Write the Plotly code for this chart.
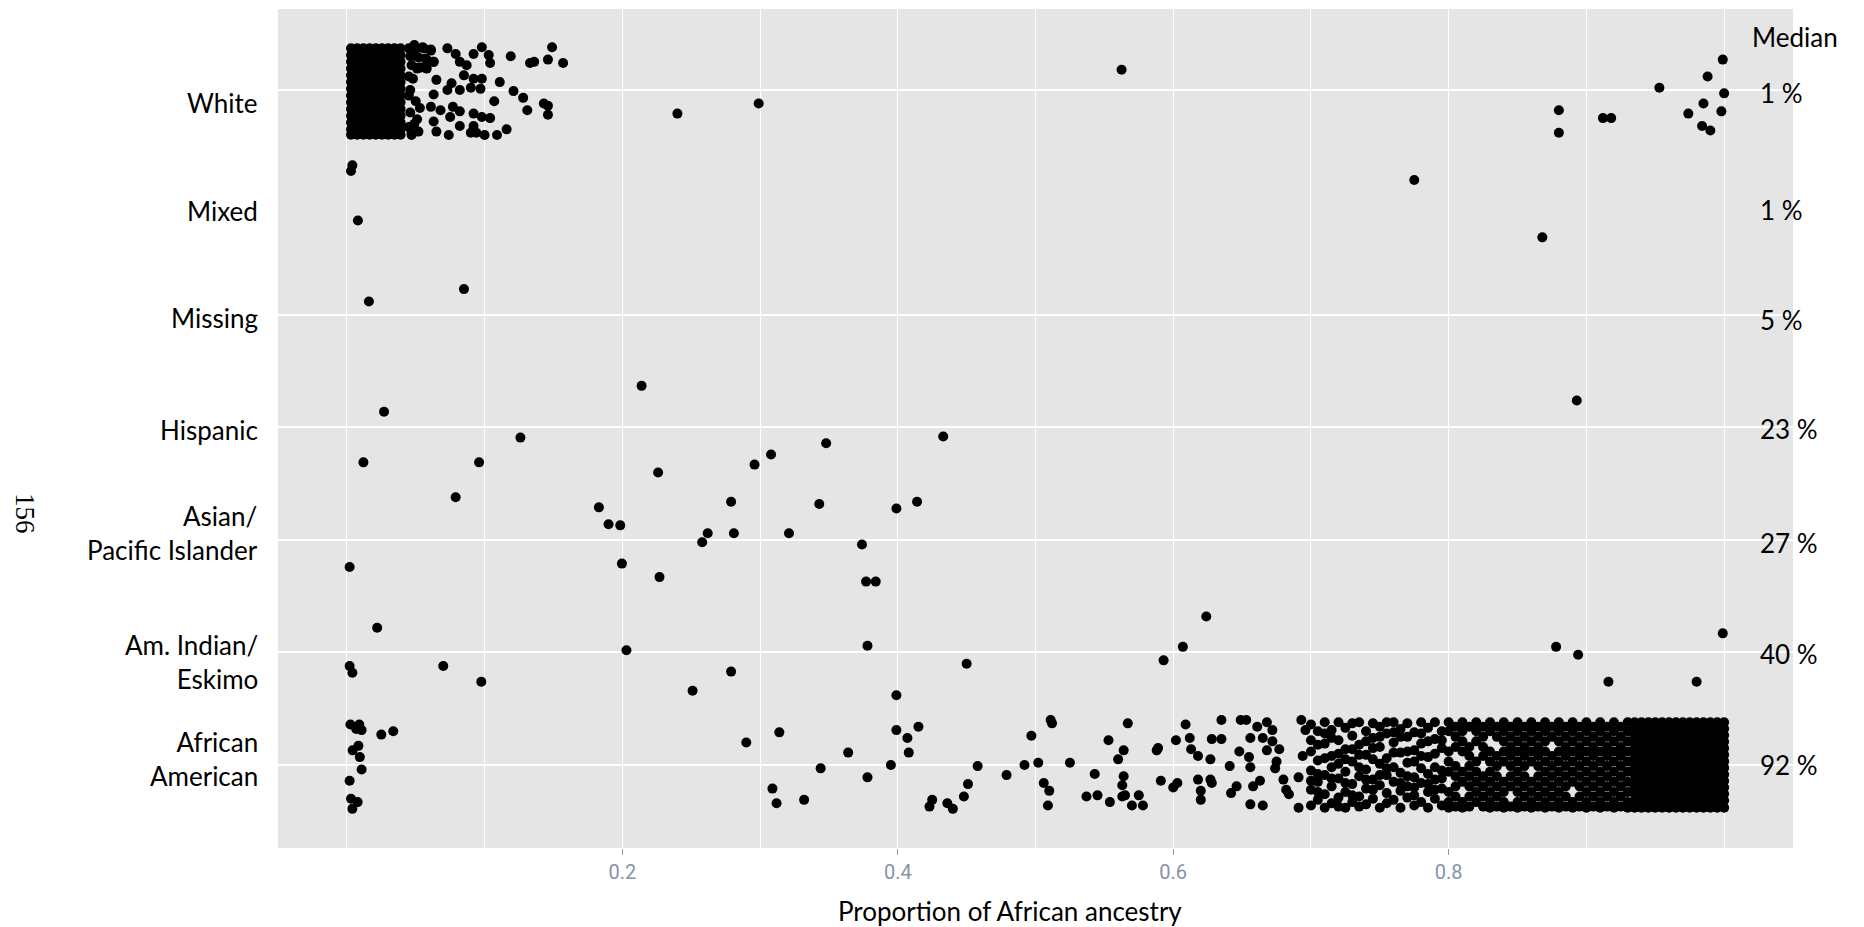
import plotly.graph_objects as go

# ---------------- data ----------------
categories = ["White", "Mixed", "Missing", "Hispanic",
              "Asian/<br>Pacific Islander", "Am. Indian/<br>Eskimo", "African<br>American"]
medians = ["1 %", "1 %", "5 %", "23 %", "27 %", "40 %", "92 %"]
x_ticks = [0.2, 0.4, 0.6, 0.8]
x_ticklabels = ["0.2", "0.4", "0.6", "0.8"]
x_title = "Proportion of African ancestry"
median_title = "Median"
page_number = "156"

# jitter offsets of the fully black stacks
white_full = [-0.37, -0.31, -0.25, -0.19, -0.13, -0.07, -0.01, 0.05, 0.11, 0.17, 0.23, 0.29, 0.35, 0.398]
african_full = [-0.38, -0.322, -0.264, -0.206, -0.148, -0.09, -0.032, 0.026, 0.084, 0.142, 0.2, 0.258, 0.316, 0.38]
african_a = [-0.38, -0.30, -0.21, -0.12, -0.03, 0.06, 0.15, 0.24, 0.33, 0.38]
african_b = [-0.34, -0.25, -0.16, -0.08, 0.01, 0.10, 0.19, 0.28, 0.37]

# (proportion, vertical jitter)
white_block = [
    (0.003, white_full), (0.0075, white_full), (0.012, white_full), (0.0165, white_full),
    (0.021, white_full), (0.0255, white_full), (0.030, white_full), (0.0345, white_full),
    (0.039, white_full),
]
white_pts = [
    (0.045, -0.37), (0.050, -0.36), (0.056, -0.37), (0.061, -0.35), (0.046, -0.30), (0.052, -0.29),
    (0.058, -0.27), (0.063, -0.25), (0.047, -0.22), (0.054, -0.20), (0.045, -0.12), (0.045, 0.05),
    (0.046, 0.20), (0.045, 0.33), (0.047, 0.40), (0.051, 0.26),
    (0.049, -0.40), (0.055, -0.38), (0.061, -0.36), (0.050, -0.30), (0.057, -0.28), (0.063, -0.25),
    (0.052, -0.20), (0.048, -0.10), (0.050, 0.10), (0.049, 0.30), (0.047, 0.38),
    (0.073, -0.37), (0.079, -0.32), (0.082, -0.25), (0.092, -0.32), (0.098, -0.38), (0.103, -0.31),
    (0.104, -0.24), (0.087, -0.22), (0.119, -0.30), (0.133, -0.24), (0.136, -0.25), (0.149, -0.38),
    (0.146, -0.27), (0.157, -0.24),
    (0.051, -0.19), (0.058, -0.19), (0.065, -0.09), (0.076, -0.06), (0.085, -0.13), (0.092, -0.10),
    (0.098, -0.10), (0.111, -0.07), (0.121, 0.01), (0.128, 0.07), (0.107, 0.10), (0.131, 0.18),
    (0.143, 0.12), (0.146, 0.14), (0.146, 0.22),
    (0.046, 0.00), (0.063, 0.04), (0.073, 0.00), (0.082, 0.00), (0.090, -0.02), (0.097, -0.01),
    (0.053, 0.16), (0.061, 0.15), (0.068, 0.18), (0.077, 0.15), (0.082, 0.19), (0.092, 0.21),
    (0.098, 0.24), (0.104, 0.25), (0.063, 0.28), (0.075, 0.24),
    (0.052, 0.37), (0.065, 0.37), (0.074, 0.40), (0.090, 0.38), (0.094, 0.38), (0.100, 0.40),
    (0.109, 0.40), (0.116, 0.35), (0.082, 0.32), (0.092, 0.32),
    (0.240, 0.21), (0.299, 0.12), (0.5625, -0.18), (0.999, -0.27), (0.953, -0.02), (0.988, -0.12),
    (1.000, 0.03), (0.985, 0.12), (0.974, 0.21), (0.998, 0.19), (0.984, 0.32), (0.990, 0.36),
    (0.880, 0.18), (0.880, 0.38), (0.912, 0.25), (0.918, 0.25),
]
mixed_pts = [(0.004, -0.33), (0.003, -0.28), (0.008, 0.16), (0.775, -0.20), (0.868, 0.31)]
missing_pts = [(0.016, -0.12), (0.085, -0.23)]
hispanic_pts = [
    (0.214, -0.37), (0.027, -0.14), (0.126, 0.09), (0.012, 0.31), (0.096, 0.31), (0.226, 0.40),
    (0.296, 0.33), (0.308, 0.24), (0.348, 0.14), (0.433, 0.08), (0.893, -0.24),
]
asian_pts = [
    (0.079, -0.38), (0.183, -0.29), (0.190, -0.14), (0.1985, -0.13), (0.258, 0.02), (0.262, -0.06),
    (0.281, -0.06), (0.279, -0.34), (0.321, -0.06), (0.343, -0.32), (0.374, 0.04), (0.399, -0.28),
    (0.414, -0.34), (0.002, 0.24), (0.1997, 0.21), (0.227, 0.33), (0.377, 0.37), (0.384, 0.37),
]
amindian_pts = [
    (0.022, -0.22), (0.378, -0.06), (0.203, -0.02), (0.002, 0.12), (0.004, 0.18), (0.070, 0.12),
    (0.0976, 0.26), (0.251, 0.34), (0.279, 0.17), (0.399, 0.38), (0.450, 0.10), (0.593, 0.07),
    (0.607, -0.05), (0.624, -0.32), (0.878, -0.05), (0.894, 0.02), (0.916, 0.26), (0.980, 0.26),
    (0.999, -0.17),
]
african_pts = [
    (0.0026, -0.36), (0.009, -0.36), (0.0068, -0.32), (0.0107, -0.31), (0.025, -0.27), (0.0337, -0.30),
    (0.0042, -0.13), (0.0084, -0.17), (0.0094, -0.07), (0.0107, 0.04), (0.002, 0.14), (0.003, 0.30),
    (0.0078, 0.33), (0.004, 0.39),
    (0.290, -0.20), (0.314, -0.29), (0.309, 0.21), (0.312, 0.34), (0.332, 0.31), (0.344, 0.03),
    (0.364, -0.11), (0.378, 0.11), (0.395, 0.00), (0.399, -0.31), (0.407, -0.24), (0.408, -0.11),
    (0.415, -0.34), (0.423, 0.37), (0.425, 0.31), (0.436, 0.34), (0.440, 0.39), (0.448, 0.28),
    (0.451, 0.17), (0.458, 0.01),
    (0.479, 0.09), (0.492, 0.00), (0.502, -0.02), (0.497, -0.26), (0.511, -0.40), (0.512, -0.37),
    (0.506, 0.16), (0.510, 0.23), (0.509, 0.36), (0.525, -0.02), (0.537, 0.28), (0.545, 0.27),
    (0.543, 0.08), (0.553, -0.22), (0.554, 0.33), (0.563, 0.28), (0.565, 0.27), (0.564, -0.13),
    (0.560, -0.05), (0.564, 0.10), (0.563, 0.18), (0.567, -0.37), (0.570, 0.36), (0.578, 0.36),
    (0.575, 0.27), (0.588, -0.13), (0.589, -0.15), (0.591, 0.14), (0.602, -0.22), (0.600, 0.20),
    (0.603, 0.16), (0.609, -0.36), (0.612, -0.24), (0.613, -0.14), (0.618, -0.08), (0.627, -0.05),
    (0.618, 0.13), (0.620, 0.23), (0.620, 0.31), (0.628, -0.23), (0.635, -0.23), (0.627, 0.13),
    (0.628, 0.16), (0.635, -0.40), (0.641, 0.01), (0.642, 0.25), (0.646, 0.19), (0.648, -0.12),
    (0.649, -0.40), (0.653, -0.40), (0.655, -0.07), (0.656, 0.02), (0.656, -0.24), (0.661, -0.34),
    (0.658, 0.19), (0.663, 0.14), (0.656, 0.35), (0.665, 0.36), (0.668, -0.38), (0.672, -0.31),
    (0.665, -0.24), (0.672, -0.21), (0.668, -0.13), (0.677, -0.14), (0.675, -0.03), (0.674, 0.03),
    (0.680, 0.13), (0.682, 0.22), (0.684, 0.26), (0.691, 0.38), (0.693, -0.40), (0.696, -0.31),
    (0.694, -0.08), (0.691, 0.11),
]
african_block = [
    (0.700, [-0.36, -0.22, -0.12, 0.05, 0.14, 0.22, 0.36]),
    (0.705, [-0.30, -0.18, -0.04, 0.08, 0.15, 0.24, 0.31]),
    (0.710, [-0.38, -0.28, -0.19, -0.06, 0.09, 0.26, 0.38]),
    (0.715, [-0.31, -0.24, -0.08, 0.02, 0.12, 0.19, 0.34]),
    (0.720, [-0.38, -0.22, -0.10, -0.01, 0.12, 0.29, 0.37]),
    (0.725, [-0.33, -0.14, -0.05, 0.06, 0.16, 0.24, 0.38]),
    (0.730, [-0.37, -0.26, -0.14, -0.03, 0.17, 0.27, 0.33]),
    (0.735, [-0.38, -0.18, -0.09, 0.02, 0.10, 0.28, 0.37]),
    (0.740, [-0.30, -0.21, -0.09, 0.04, 0.13, 0.21, 0.35]),
    (0.745, [-0.37, -0.24, -0.15, -0.05, 0.13, 0.22, 0.30]),
    (0.750, [-0.34, -0.25, -0.16, -0.01, 0.09, 0.18, 0.38]),
    (0.755, [-0.38, -0.28, -0.06, 0.03, 0.09, 0.25, 0.34]),
    (0.760, [-0.38, -0.29, -0.20, -0.11, 0.02, 0.15, 0.31]),
    (0.765, [-0.32, -0.25, -0.11, 0.07, 0.16, 0.23, 0.38]),
    (0.770, [-0.37, -0.25, -0.12, -0.02, 0.10, 0.19, 0.29]),
    (0.775, [-0.29, -0.13, -0.03, 0.11, 0.20, 0.27, 0.36]),
    (0.780, [-0.38, -0.28, -0.19, -0.08, 0.03, 0.16, 0.33]),
    (0.785, [-0.33, -0.21, -0.07, 0.08, 0.17, 0.24, 0.38]),
    (0.790, [-0.38, -0.23, -0.10, 0.02, 0.13, 0.22, 0.30]),
    (0.795, [-0.30, -0.22, -0.15, 0.05, 0.12, 0.21, 0.36]),
    (0.800, [-0.38, -0.30, -0.12, -0.03, 0.06, 0.24, 0.33, 0.38]),
    (0.805, [-0.34, -0.25, -0.16, 0.01, 0.10, 0.19, 0.28, 0.37]),
    (0.810, [-0.38, -0.30, -0.21, -0.12, 0.06, 0.15, 0.33, 0.38]),
    (0.815, [-0.34, -0.16, -0.08, 0.01, 0.10, 0.19, 0.28, 0.37]),
    (0.820, [-0.38, -0.30, -0.21, -0.03, 0.06, 0.15, 0.24, 0.33]),
    (0.825, [-0.34, -0.25, -0.16, -0.08, 0.10, 0.19, 0.28, 0.37]),
    (0.830, [-0.38, -0.30, -0.12, -0.03, 0.06, 0.15, 0.24, 0.33, 0.38]),
    (0.835, [-0.34, -0.25, -0.08, 0.01, 0.10, 0.19, 0.28, 0.37]),
    (0.840, [-0.38, -0.30, -0.21, -0.12, -0.03, 0.15, 0.24, 0.33, 0.38]),
    (0.845, [-0.34, -0.25, -0.16, -0.08, 0.01, 0.10, 0.19, 0.37]),
    (0.850, african_a),
    (0.855, african_b),
    (0.860, [-0.38, -0.30, -0.21, -0.12, -0.03, 0.15, 0.24, 0.33, 0.38]),
    (0.865, african_b),
    (0.870, african_a),
    (0.875, [-0.34, -0.25, -0.08, 0.01, 0.10, 0.19, 0.28, 0.37]),
    (0.880, african_a),
    (0.885, african_b),
    (0.890, [-0.38, -0.30, -0.21, -0.12, -0.03, 0.06, 0.15, 0.33, 0.38]),
    (0.895, african_b),
    (0.900, african_a), (0.905, african_b), (0.910, african_a), (0.915, african_b),
    (0.920, african_a), (0.925, african_b), (0.930, african_a),
    (0.935, african_full), (0.940, african_full), (0.945, african_full), (0.950, african_full),
    (0.955, african_full), (0.960, african_full), (0.965, african_full), (0.970, african_full),
    (0.975, african_full), (0.980, african_full), (0.985, african_full), (0.990, african_full),
    (0.995, african_full), (1.000, african_full),
]

# label placement (row units; rows are 0..6 from top)
label_rows = [0.116, 1.076, 2.027, 3.022, 3.942, 5.089, 5.947]
median_rows = [0.027, 1.067, 2.044, 3.013, 4.027, 5.013, 6.0]
grid_rows = [0, 2, 3, 4, 5, 6]


def expand(block):
    return [(x, j) for x, js in block for j in js]


rows = [
    expand(white_block) + white_pts,
    mixed_pts,
    missing_pts,
    hispanic_pts,
    asian_pts,
    amindian_pts,
    african_pts + expand(african_block),
]

xs, ys = [], []
for i, pts in enumerate(rows):
    for x, j in pts:
        xs.append(x)
        ys.append(i + j)

fig = go.Figure()
fig.add_trace(go.Scatter(
    x=xs, y=ys, mode="markers",
    marker=dict(color="black", size=10, line=dict(width=0)),
    hoverinfo="skip", showlegend=False,
))

LABEL_FONT = dict(family="Lato, 'Open Sans', sans-serif", size=26, color="black")

for txt, r in zip(categories, label_rows):
    fig.add_annotation(text=txt, xref="paper", x=-0.0119, xanchor="right",
                       yref="y", y=r, yanchor="middle", showarrow=False,
                       align="right", font=LABEL_FONT)

for txt, r in zip(medians, median_rows):
    fig.add_annotation(text=txt, xref="paper", x=0.9769, xanchor="left",
                       yref="y", y=r, yanchor="middle", showarrow=False,
                       align="left", font=LABEL_FONT)

fig.add_annotation(text=median_title, xref="paper", x=0.9716, xanchor="left",
                   yref="y", y=-0.467, yanchor="middle", showarrow=False, font=LABEL_FONT)

fig.add_annotation(text=x_title, xref="paper", x=0.483, xanchor="center",
                   yref="paper", y=-0.075, yanchor="middle", showarrow=False, font=LABEL_FONT)

fig.add_annotation(text=page_number, xref="paper", x=-0.167, xanchor="center",
                   yref="y", y=3.77, yanchor="middle", showarrow=False, textangle=90,
                   font=dict(family="'Liberation Serif', 'DejaVu Serif', serif", size=27, color="black"))

fig.update_layout(
    width=1864, height=927,
    margin=dict(l=278, r=71, t=9, b=79),
    paper_bgcolor="white",
    plot_bgcolor="#E5E5E5",
    showlegend=False,
    xaxis=dict(
        range=[-0.05, 1.05],
        tickvals=x_ticks, ticktext=x_ticklabels,
        ticks="outside", ticklen=6, tickwidth=1, tickcolor="#9a9a9a",
        tickfont=dict(family="'Liberation Sans Narrow', Roboto, sans-serif", size=20, color="#8593A8"),
        showgrid=True, gridcolor="white", gridwidth=1.2,
        minor=dict(tickvals=[0, 0.1, 0.3, 0.5, 0.7, 0.9, 1.0], showgrid=True,
                   gridcolor="white", gridwidth=1.2, ticks=""),
        zeroline=False, showline=False,
    ),
    yaxis=dict(
        range=[6.738, -0.72],
        tickvals=grid_rows, showticklabels=False, ticks="",
        showgrid=True, gridcolor="white", gridwidth=1.6,
        zeroline=False, showline=False,
    ),
)

# remove the default 8px page margin so the figure fills the window exactly
fig.write_html("out.html",
               config={"displayModeBar": False},
               post_script="document.body.style.margin='0px'; document.body.style.overflow='hidden';")
